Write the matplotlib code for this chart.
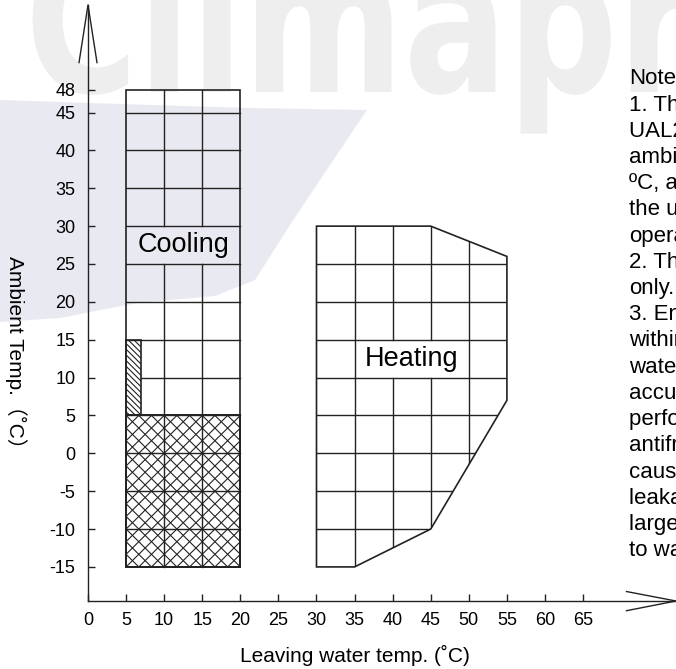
import numpy as np
import matplotlib
matplotlib.use('Agg')
import matplotlib.pyplot as plt
from matplotlib.patches import Polygon, Rectangle, PathPatch
from matplotlib.textpath import TextPath
from matplotlib.font_manager import FontProperties
from matplotlib.transforms import Affine2D

plt.rcParams['font.family'] = ['Liberation Sans', 'DejaVu Sans']
plt.rcParams['axes.unicode_minus'] = False

# axis ticks
x_ticks = [0, 5, 10, 15, 20, 25, 30, 35, 40, 45, 50, 55, 60, 65]
y_ticks = [-15, -10, -5, 0, 5, 10, 15, 20, 25, 30, 35, 40, 45, 48]

# cooling area (leaving water 5..20, ambient -15..48)
cool_x = [5, 10, 15, 20]
cool_y = [-15, -10, -5, 0, 5, 10, 15, 20, 25, 30, 35, 40, 45, 48]
cool_label_row = [25, 30]
cross_hatch_box = [5, 20, -15, 5]      # x0, x1, y0, y1
line_hatch_box = [5, 7, 5, 15]

# heating area outline
heat_x = [30, 45, 55, 55, 45, 35, 30]
heat_y = [30, 30, 26, 7, -10, -15, -15]
heat_grid_x = [35, 40, 45, 50]
heat_grid_y = [-10, -5, 0, 5, 10, 15, 20, 25]
heat_label_cell = [35, 50, 10, 15]

notes = [
    "Note:",
    "1. The operating range",
    "UAL2 series units",
    "ambient temperature",
    "\u00baC, and the water",
    "the unit in cooling",
    "operation.",
    "2. The data is for reference",
    "only.",
    "3. Ensure water flow",
    "within the range,",
    "water quality and",
    "accumulation of",
    "performance of",
    "antifreeze may",
    "cause corrosion",
    "leakage or",
    "larger pressure",
    "to water pump.",
]

W, H = 676, 669
fig = plt.figure(figsize=(W / 100, H / 100), dpi=100)

# faint watermark in the background, pixel coordinates
bg = fig.add_axes([0, 0, 1, 1])
bg.set_xlim(0, W)
bg.set_ylim(H, 0)
bg.axis('off')
bg.set_zorder(-1)
swoosh = [(0, 100), (120, 104), (250, 108), (367, 110), (330, 165), (290, 225),
          (255, 280), (215, 296), (137, 303), (60, 318), (0, 322)]
bg.add_patch(Polygon(swoosh, closed=True, facecolor='#e9e9f1', edgecolor='none', zorder=1))
tp = TextPath((0, 0), 'Climapro', size=1, prop=FontProperties(family='DejaVu Sans', weight='bold'))
sx = 760 / tp.get_extents().width
wm = PathPatch(tp, facecolor='#eeeeee', edgecolor='none', zorder=2,
               transform=Affine2D().scale(sx, -200).translate(25, 92) + bg.transData)
bg.add_patch(wm)

# main axes
ax = fig.add_axes([88 / W, (H - 601) / H, (W - 88) / W, (601 - 5) / H])
ax.set_facecolor('none')
ax.set_xlim(0, 77.2)
ax.set_ylim(-19.5, 59.2)
for s in ['top', 'right']:
    ax.spines[s].set_visible(False)
for s in ['left', 'bottom']:
    ax.spines[s].set_linewidth(1.0)
    ax.spines[s].set_color('#222222')
ax.set_xticks(x_ticks)
ax.set_yticks(y_ticks)
ax.tick_params(axis='both', direction='in', length=5, width=1, color='#222222', labelsize=13)
ax.tick_params(axis='x', pad=8)
ax.tick_params(axis='y', pad=9)

# axis arrows
ax.plot([-1.18, 0, 1.18], [51.6, 59.2, 51.6], color='#222222', lw=1, clip_on=False)
ax.plot([70.7, 77.2, 70.7], [-19.5 + 1.25, -19.5, -19.5 - 1.28], color='#222222', lw=1, clip_on=False)

lc = '#222222'
glw = 1.0

# ---- cooling ----
x0, x1, y0, y1 = cross_hatch_box
xbox = Rectangle((x0, y0), x1 - x0, y1 - y0, facecolor='none', edgecolor=lc, lw=1.4)
ax.add_patch(xbox)
step = (cool_x[1] - cool_x[0]) / 3
for c in np.arange(-60, 60, step):
    xs = np.array([-10, 90])
    l1, = ax.plot(xs, xs - c, color=lc, lw=0.8)
    l1.set_clip_path(xbox)
    l2, = ax.plot(xs, -xs + c, color=lc, lw=0.8)
    l2.set_clip_path(xbox)

hx0, hx1, hy0, hy1 = line_hatch_box
hbox = Rectangle((hx0, hy0), hx1 - hx0, hy1 - hy0, facecolor='none', edgecolor=lc, lw=1.2)
ax.add_patch(hbox)
for c in np.arange(0, 30, 0.75):
    xs = np.array([0, 30])
    l3, = ax.plot(xs, -xs + c, color=lc, lw=0.8)
    l3.set_clip_path(hbox)

ax.add_patch(Rectangle((cool_x[0], cool_y[0]), cool_x[-1] - cool_x[0], cool_y[-1] - cool_y[0],
                       facecolor='none', edgecolor=lc, lw=1.2))
for y in cool_y[1:-1]:
    xs = hx1 if hy0 < y < hy1 else cool_x[0]
    ax.plot([xs, cool_x[-1]], [y, y], color=lc, lw=glw)
for x in cool_x[1:-1]:
    ax.plot([x, x], [cool_y[0], cool_label_row[0]], color=lc, lw=glw)
    ax.plot([x, x], [cool_label_row[1], cool_y[-1]], color=lc, lw=glw)
ax.text((cool_x[0] + cool_x[-1]) / 2, sum(cool_label_row) / 2, 'Cooling',
        ha='center', va='center', fontsize=19.5)

# ---- heating ----
heat = Polygon(np.column_stack([heat_x, heat_y]), closed=True, facecolor='none', edgecolor=lc, lw=1.2)
ax.add_patch(heat)
cx0, cx1, cy0, cy1 = heat_label_cell
for x in heat_grid_x:
    if cx0 < x < cx1:
        segs = [(-20, cy0), (cy1, 40)]
    else:
        segs = [(-20, 40)]
    for a, b in segs:
        ln, = ax.plot([x, x], [a, b], color=lc, lw=glw)
        ln.set_clip_path(heat)
for y in heat_grid_y:
    ln, = ax.plot([25, 60], [y, y], color=lc, lw=glw)
    ln.set_clip_path(heat)
ax.text((cx0 + cx1) / 2, (cy0 + cy1) / 2, 'Heating', ha='center', va='center', fontsize=19.5)

# ---- labels ----
fig.text(355 / W, 1 - 655 / H, 'Leaving water temp. (\u02daC)', ha='center', va='center', fontsize=15)
fig.text(16 / W, 1 - 357 / H, 'Ambient Temp.\uff08\u02daC\uff09', ha='center', va='center',
         rotation=-90, fontsize=15, family=['Liberation Sans', 'Noto Sans CJK SC'])

for i, line in enumerate(notes):
    fig.text(629 / W, 1 - (79 + i * 26.2) / H, line, ha='left', va='center', fontsize=16)

fig.savefig('out.png', dpi=100)
